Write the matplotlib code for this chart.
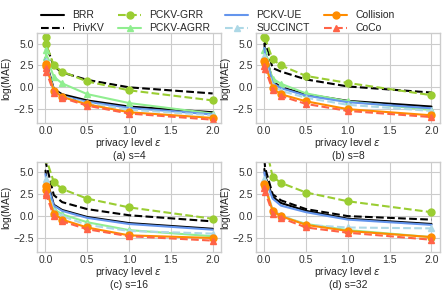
import matplotlib
matplotlib.use("Agg")
import matplotlib.pyplot as plt

# privacy levels (first two are very small epsilons, drawn at ~0)
epsilons = [0.001, 0.01, 0.1, 0.2, 0.5, 1.0, 2.0]

methods = ["BRR", "PrivKV", "PCKV-GRR", "PCKV-AGRR", "PCKV-UE", "SUCCINCT", "Collision", "CoCo"]
panel_titles = ["(a) s=4", "(b) s=8", "(c) s=16", "(d) s=32"]

# log(MAE) per method, one list per panel
brr = [
    [3.4, 2.9, -0.2, -0.8, -1.5, -2.2, -2.85],
    [5.0, 4.0, 0.7, 0.0, -0.8, -1.55, -2.2],
    [5.2, 4.4, 1.3, 0.7, -0.1, -0.8, -1.45],
    [5.4, 4.6, 2.2, 1.5, 0.6, -0.3, -0.9],
]
privkv = [
    [5.6, 4.8, 2.4, 1.7, 0.85, 0.0, -0.7],
    [5.7, 5.2, 2.2, 1.8, 0.9, 0.1, -0.6],
    [6.5, 5.9, 2.4, 1.6, 0.8, 0.1, -0.6],
    [6.5, 5.5, 2.5, 1.8, 0.8, 0.0, -0.4],
]
pckv_grr = [
    [5.75, 4.9, 2.5, 1.8, 0.67, -0.34, -1.5],
    [5.75, 5.6, 3.2, 2.5, 1.3, 0.5, -0.9],
    [7.0, 6.5, 3.9, 3.1, 2.0, 1.0, -0.3],
    [9.0, 8.3, 4.5, 3.8, 2.7, 1.7, 0.45],
]
pckv_agrr = [
    [4.3, 3.5, 1.2, 0.45, -0.78, -1.8, -3.0],
    [4.3, 3.6, 1.0, 0.4, -0.7, -1.6, -2.6],
    [3.9, 3.3, 0.8, 0.2, -0.7, -1.6, -2.3],
    [4.0, 3.4, 0.6, 0.0, -0.9, -1.6, -2.4],
]
pckv_ue = [
    [3.2, 2.7, -0.35, -1.0, -1.65, -2.35, -3.1],
    [4.5, 3.7, 0.5, -0.1, -0.95, -1.7, -2.4],
    [4.8, 4.0, 1.2, 0.6, -0.2, -0.9, -1.55],
    [5.0, 4.3, 2.0, 1.2, 0.45, -0.4, -1.0],
]
succinct = [
    [3.0, 2.5, -0.4, -1.05, -1.8, -2.55, -3.2],
    [3.6, 3.0, 0.2, -0.4, -1.2, -2.0, -2.7],
    [4.2, 3.6, 0.6, 0.0, -1.0, -1.7, -2.0],
    [4.2, 3.6, 0.7, 0.1, -1.0, -1.3, -1.4],
]
collision = [
    [2.7, 2.4, -0.4, -1.1, -1.95, -2.85, -3.5],
    [3.0, 2.7, -0.1, -0.8, -1.6, -2.5, -3.2],
    [3.4, 3.0, 0.3, -0.4, -1.3, -2.2, -2.5],
    [3.7, 3.3, 0.6, 0.0, -1.0, -1.7, -2.4],
]
coco = [
    [2.2, 1.8, -0.6, -1.2, -2.1, -3.0, -3.7],
    [2.4, 2.1, -0.3, -1.0, -1.9, -2.7, -3.4],
    [2.7, 2.4, 0.0, -0.6, -1.5, -2.3, -2.8],
    [3.2, 2.8, 0.3, -0.2, -1.3, -1.9, -2.7],
]

series = [brr, privkv, pckv_grr, pckv_agrr, pckv_ue, succinct, collision, coco]
styles = [
    dict(color="black", ls="-", marker=None),
    dict(color="black", ls="--", marker=None),
    dict(color="yellowgreen", ls="--", marker="o"),
    dict(color="lightgreen", ls="-", marker="^"),
    dict(color="cornflowerblue", ls="-", marker=None),
    dict(color="lightblue", ls="--", marker="^"),
    dict(color="darkorange", ls="-", marker="o"),
    dict(color="tomato", ls="--", marker="^"),
]

plt.style.use("seaborn-v0_8-whitegrid")
plt.rcParams["font.family"] = ["Liberation Sans", "DejaVu Sans"]
plt.rcParams["font.size"] = 7

fig, axes = plt.subplots(2, 2, figsize=(4.47, 2.93), dpi=100)
fig.subplots_adjust(left=0.083, right=0.984, top=0.887, bottom=0.14,
                    wspace=0.19, hspace=0.43)

for p, ax in enumerate(axes.flat):
    for name, data, st in zip(methods, series, styles):
        ax.plot(epsilons, data[p], color=st["color"], linestyle=st["ls"],
                marker=st["marker"], markersize=5, linewidth=1.5, label=name)
    ax.set_xlim(-0.1, 2.1)
    ax.set_ylim(-4.1, 6.2)
    ax.set_xticks([0.0, 0.5, 1.0, 1.5, 2.0])
    ax.set_yticks([-2.5, 0.0, 2.5, 5.0])
    ax.tick_params(labelsize=7.5, pad=2, colors="#333333")
    # panel caption goes on a second line under the axis label
    ax.set_xlabel("privacy level $\\varepsilon$\n" + panel_titles[p],
                  fontsize=7.5, labelpad=0, linespacing=1.15)
    ax.set_ylabel("log(MAE)", fontsize=7.5, labelpad=2)
    for sp in ax.spines.values():
        sp.set_visible(True)
        sp.set_color("#cccccc")

handles, labels = axes[0, 0].get_legend_handles_labels()
fig.legend(handles, labels, loc="upper center", bbox_to_anchor=(0.487, 0.997),
           ncol=4, fontsize=7.5, frameon=False, columnspacing=1.4,
           handlelength=2.2, labelspacing=0.3)

fig.savefig("out.png", dpi=100)
